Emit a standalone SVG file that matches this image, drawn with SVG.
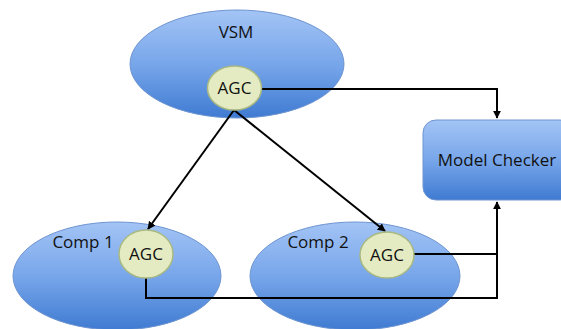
<svg xmlns="http://www.w3.org/2000/svg" width="561" height="329" viewBox="0 0 561 329">
<defs>
<linearGradient id="blue" x1="0" y1="0" x2="0" y2="1">
<stop offset="0" stop-color="#a3c4f5"/>
<stop offset="0.5" stop-color="#78a6ea"/>
<stop offset="1" stop-color="#3f7bd2"/>
</linearGradient>
<marker id="arr" viewBox="0 0 10 10" refX="9" refY="5" markerWidth="4" markerHeight="4" orient="auto">
<path d="M0,0 L10,5 L0,10 z" fill="#000"/>
</marker>
</defs>
<style>
.big{fill:url(#blue);stroke:#6f95d0;stroke-width:1}
.agc{fill:#e4ebc2;stroke:#a9b981;stroke-width:1.5}
.t{font-family:"Open Sans","Liberation Sans",sans-serif;font-size:17px;fill:#111;text-anchor:middle}
.c{fill:none;stroke:#000;stroke-width:2}
</style>
<g id="vsm">
<ellipse class="big" cx="237" cy="64" rx="107" ry="54"/>
<text class="t" x="236" y="38">VSM</text>
</g>
<g id="comp1">
<ellipse class="big" cx="117" cy="276" rx="104" ry="54"/>
<text class="t" x="83" y="248">Comp 1</text>
</g>
<g id="comp2">
<ellipse class="big" cx="355" cy="276" rx="105" ry="54"/>
<text class="t" x="318" y="248">Comp 2</text>
</g>
<g id="modelchecker">
<rect class="big" x="423" y="120" width="150" height="80" rx="13"/>
<text class="t" x="497" y="166">Model Checker</text>
</g>
<g id="connectors">
<polyline class="c" points="262,89 497,89 497,118" marker-end="url(#arr)"/>
<line class="c" x1="234" y1="110" x2="148" y2="229" marker-end="url(#arr)"/>
<line class="c" x1="234" y1="110" x2="385" y2="231" marker-end="url(#arr)"/>
<polyline class="c" points="146,278 146,298 497,298 497,202" marker-end="url(#arr)"/>
<polyline class="c" points="414,254 497,254"/>
</g>
<g id="agc-vsm">
<ellipse class="agc" cx="234.5" cy="88" rx="27" ry="22"/>
<text class="t" x="234.5" y="94">AGC</text>
</g>
<g id="agc-comp1">
<ellipse class="agc" cx="146" cy="254" rx="27" ry="24"/>
<text class="t" x="146" y="260">AGC</text>
</g>
<g id="agc-comp2">
<ellipse class="agc" cx="387" cy="255" rx="27" ry="23"/>
<text class="t" x="387" y="261">AGC</text>
</g>
</svg>
